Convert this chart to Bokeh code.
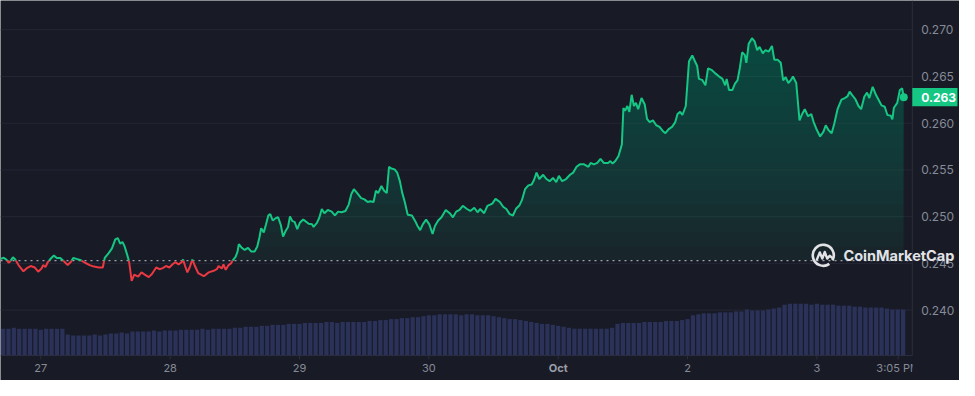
import numpy as np
from bokeh.plotting import figure
from bokeh.models import Range1d
from bokeh.core.properties import value
from bokeh.embed import file_html
from bokeh.resources import INLINE

# ---------------- data ----------------
# time in hours since 27 Sep 00:00, price in USD
HOURS = [
    -7.48, -6.88, -6.39, -5.97, -5.66, -5.17, -4.75, -4.14, -3.23, -2.61,
    -1.88, -1.10, -0.49, 0.13, 0.42, 0.86, 1.33, 1.95, 2.43, 2.97,
    3.60, 4.38, 4.98, 5.60, 6.02, 6.63, 7.43, 8.21, 9.07, 9.86,
    10.77, 11.50, 11.86, 12.59, 13.20, 13.82, 14.29, 14.73, 15.15, 15.51,
    15.93, 16.37, 16.61, 16.85, 17.34, 18.07, 18.67, 19.29, 20.02, 20.62,
    21.41, 22.03, 22.63, 23.23, 23.85, 24.46, 24.95, 25.55, 26.15, 26.41,
    26.77, 27.19, 27.61, 28.11, 28.60, 29.20, 30.24, 31.15, 32.07, 32.67,
    32.98, 33.58, 33.89, 34.31, 34.80, 35.28, 35.72, 36.14, 36.50, 36.74,
    37.23, 37.83, 38.45, 39.06, 39.66, 40.15, 40.57, 40.88, 41.37, 41.79,
    42.21, 42.58, 43.02, 43.62, 44.04, 44.53, 44.95, 45.44, 45.87, 46.23,
    46.67, 47.09, 47.58, 48.06, 48.68, 49.10, 49.70, 50.32, 50.61, 51.23,
    51.65, 52.14, 52.62, 53.24, 53.97, 54.57, 55.17, 55.79, 56.52, 57.13,
    57.62, 58.09, 58.71, 59.44, 60.05, 60.65, 61.14, 61.74, 62.18, 62.60,
    63.20, 63.70, 64.19, 64.61, 65.03, 65.65, 66.12, 66.62, 67.04, 67.53,
    68.08, 68.86, 69.48, 69.90, 70.39, 70.87, 71.49, 72.09, 72.69, 73.13,
    73.73, 74.34, 75.14, 75.87, 76.47, 77.07, 77.69, 78.30, 79.08, 79.70,
    80.43, 81.03, 81.53, 82.26, 82.86, 83.77, 84.37, 85.18, 85.78, 86.38,
    87.00, 87.60, 88.21, 88.83, 89.25, 89.85, 90.47, 91.07, 91.49, 91.98,
    92.48, 93.21, 93.81, 94.41, 95.03, 95.64, 96.13, 96.73, 97.46, 98.19,
    98.79, 99.41, 100.02, 100.80, 101.60, 102.02, 102.63, 103.25, 103.85, 104.45,
    105.25, 105.67, 106.09, 106.59, 107.19, 107.81, 108.10, 108.41, 108.83, 109.20,
    109.63, 110.05, 110.42, 110.84, 111.46, 112.06, 112.48, 112.97, 113.58, 114.20,
    114.80, 115.40, 115.89, 116.50, 117.12, 117.72, 118.14, 118.63, 119.05, 119.67,
    120.27, 120.88, 121.37, 121.79, 122.10, 122.70, 123.32, 123.80, 124.53, 125.15,
    125.88, 126.48, 126.97, 127.26, 127.70, 128.30, 128.80, 129.27, 129.71, 130.13,
    130.62, 130.91, 131.35, 131.95, 132.45, 132.92, 133.36, 133.96, 134.45, 135.06,
    135.66, 136.10, 136.70, 137.30, 137.74, 138.21, 138.71, 139.13, 139.56, 140.17,
    140.77, 141.26, 141.75, 142.36, 142.96, 143.40, 144.00, 144.60, 145.22, 145.64,
    146.14, 146.74, 147.23, 147.83, 148.56, 149.17, 149.66, 150.08, 150.51, 151.12,
    151.72, 152.21, 152.81, 153.31, 153.73, 154.35, 154.95, 155.37, 155.99, 156.59,
    157.08, 157.69, 158.00, 158.29, 158.91, 159.39, 159.82, 160.12,
]
PRICES = [
    0.24548, 0.24561, 0.24541, 0.24507, 0.24524, 0.24565, 0.24541, 0.24482, 0.24415, 0.24449,
    0.24472, 0.24456, 0.24411, 0.24445, 0.24482, 0.24462, 0.24517, 0.24558, 0.24585, 0.24558,
    0.24558, 0.24517, 0.24482, 0.24517, 0.24558, 0.24548, 0.24534, 0.24507, 0.24482, 0.24466,
    0.24456, 0.24456, 0.24558, 0.24610, 0.24661, 0.24757, 0.24770, 0.24712, 0.24729, 0.24688,
    0.24610, 0.24524, 0.24421, 0.24312, 0.24380, 0.24359, 0.24404, 0.24380, 0.24353, 0.24387,
    0.24456, 0.24438, 0.24449, 0.24472, 0.24456, 0.24490, 0.24513, 0.24490, 0.24513, 0.24541,
    0.24472, 0.24404, 0.24456, 0.24541, 0.24472, 0.24397, 0.24363, 0.24404, 0.24421, 0.24438,
    0.24472, 0.24445, 0.24490, 0.24431, 0.24479, 0.24500, 0.24541, 0.24569, 0.24626, 0.24705,
    0.24671, 0.24644, 0.24667, 0.24626, 0.24626, 0.24678, 0.24780, 0.24877, 0.24832, 0.24918,
    0.25013, 0.25027, 0.24959, 0.24986, 0.24993, 0.24911, 0.24787, 0.24849, 0.24890, 0.25003,
    0.24952, 0.24944, 0.24866, 0.24934, 0.24969, 0.24952, 0.24924, 0.24918, 0.24890, 0.24934,
    0.24986, 0.25082, 0.25037, 0.25072, 0.25054, 0.25013, 0.25054, 0.25047, 0.25061, 0.25129,
    0.25242, 0.25294, 0.25252, 0.25198, 0.25185, 0.25157, 0.25164, 0.25157, 0.25277, 0.25252,
    0.25328, 0.25277, 0.25252, 0.25534, 0.25516, 0.25506, 0.25472, 0.25380, 0.25260, 0.25157,
    0.25020, 0.25013, 0.24952, 0.24900, 0.24856, 0.24918, 0.24969, 0.24918, 0.24815, 0.24900,
    0.24959, 0.24993, 0.25072, 0.25037, 0.24993, 0.25054, 0.25072, 0.25116, 0.25082, 0.25061,
    0.25095, 0.25047, 0.25082, 0.25037, 0.25116, 0.25140, 0.25191, 0.25157, 0.25106, 0.25082,
    0.25027, 0.25013, 0.25088, 0.25123, 0.25174, 0.25294, 0.25335, 0.25345, 0.25390, 0.25472,
    0.25403, 0.25448, 0.25403, 0.25380, 0.25414, 0.25370, 0.25437, 0.25380, 0.25403, 0.25448,
    0.25472, 0.25534, 0.25560, 0.25560, 0.25534, 0.25575, 0.25560, 0.25575, 0.25619, 0.25575,
    0.25575, 0.25595, 0.25568, 0.25595, 0.25650, 0.25773, 0.26163, 0.26132, 0.26184, 0.26122,
    0.26304, 0.26184, 0.26218, 0.26150, 0.26269, 0.26201, 0.26047, 0.26012, 0.26030, 0.25978,
    0.25961, 0.25917, 0.25893, 0.25937, 0.25961, 0.26012, 0.26098, 0.26122, 0.26088, 0.26184,
    0.26663, 0.26725, 0.26663, 0.26612, 0.26474, 0.26464, 0.26406, 0.26587, 0.26567, 0.26533,
    0.26499, 0.26474, 0.26406, 0.26474, 0.26355, 0.26355, 0.26423, 0.26458, 0.26594, 0.26759,
    0.26731, 0.26646, 0.26851, 0.26910, 0.26875, 0.26782, 0.26817, 0.26748, 0.26782, 0.26766,
    0.26827, 0.26680, 0.26680, 0.26646, 0.26458, 0.26492, 0.26430, 0.26458, 0.26499, 0.26430,
    0.26030, 0.26098, 0.26150, 0.26074, 0.26098, 0.26012, 0.25927, 0.25858, 0.25910, 0.25978,
    0.25927, 0.25893, 0.25996, 0.26150, 0.26252, 0.26269, 0.26286, 0.26338, 0.26304, 0.26259,
    0.26184, 0.26150, 0.26286, 0.26327, 0.26269, 0.26389, 0.26304, 0.26259, 0.26191, 0.26176,
    0.26088, 0.26081, 0.26040, 0.26166, 0.26218, 0.26355, 0.26372, 0.26279,
]
# hourly volume bars (relative units), hour -7 .. 160
VOL_HOURS = list(range(-7, 161))
VOLUMES = [
    28, 28, 29, 28, 28, 28, 28, 27, 28, 28, 28, 28,
    22, 21, 21, 21, 21, 22, 21, 22,
    23, 23, 24, 23,
    25, 25, 25, 25, 26, 25, 26, 26,
    26, 27, 27, 27, 27, 28, 27, 28, 28, 28, 28, 29,
    29, 30, 30, 30, 31, 31,
    32, 32, 32, 33, 33, 33,
    34, 34, 34, 34, 35, 35, 34, 35, 35, 35, 35, 35,
    36, 36, 37, 37, 38, 38, 39, 39, 40, 40,
    41, 42, 42, 43, 43, 43, 43, 42, 43, 43, 42, 42, 42, 41,
    40, 39, 38, 38, 37, 36,
    35, 34, 33, 33, 32, 31,
    30, 29, 28, 28, 28, 28, 28, 28, 28, 29,
    33, 34, 34, 34, 34, 35, 35, 35,
    35, 36, 36, 36, 37, 38,
    42, 43, 44, 44, 44, 45, 45, 45, 46, 46,
    48, 47, 47, 47, 48, 49, 50,
    53, 54, 54, 54, 54, 53, 54, 53, 53, 53, 52, 52, 52,
    51, 51, 50, 50, 50, 50, 49, 48, 48, 48,
]
BASELINE = 0.2453
Y_TICKS = [0.240, 0.245, 0.250, 0.255, 0.260, 0.265, 0.270]
X_TICKS = [0, 24, 48, 72, 120, 144, 159.08]
X_LABELS = ["27", "28", "29", "30", "2", "3", "3:05 PM"]
MONTH_TICK = [96]
MONTH_LABEL = ["Oct"]

# ---------------- styling ----------------
BG = "#181a25"
GRID = "#242735"
AXIS = "#2c2f3d"
TICK = "#868b98"
GREEN = "#16c784"
RED = "#ea3943"
VOLC = "#2b3259"
WM = "#e2e3e7"
FONT = value("Inter")

X0, X1 = -7.48, 170.46
Y0, Y1 = 0.23247, 0.27313
HPX = (X1 - X0) / 975.0   # hours per layout pixel
PPX = (Y1 - Y0) / 396.0   # price per layout pixel
X_DIV = X0 + 927 * HPX
Y_AXIS = Y1 - 370 * PPX
YLAB_X = X0 + 936 * HPX
XLAB_Y = Y1 - 383 * PPX

p = figure(width=959, height=380, x_range=Range1d(X0, X1), y_range=Range1d(Y0, Y1),
           output_backend="svg", toolbar_location=None, min_border=0,
           x_axis_location=None, y_axis_location=None,
           background_fill_color=BG, border_fill_color=BG, outline_line_color=None)
for g in p.grid:
    g.visible = False
p.extra_y_ranges = {"vol": Range1d(-26, 370)}

# grid lines
p.segment(x0=[X0] * len(Y_TICKS), x1=[X_DIV] * len(Y_TICKS), y0=Y_TICKS, y1=Y_TICKS,
          line_color=GRID, line_width=1)

# volume
p.vbar(x=VOL_HOURS, top=VOLUMES, bottom=0, width=0.78, y_range_name="vol",
       fill_color=VOLC, line_color=None)

# split line at baseline crossings
t = np.array(HOURS)
pr = np.array(PRICES)
segs = []
fx, fy = [t[0]], [pr[0]]
cx, cy, cup = [t[0]], [pr[0]], pr[0] >= BASELINE
for i in range(1, len(t)):
    up = pr[i] >= BASELINE
    if up != cup:
        f = (BASELINE - pr[i - 1]) / (pr[i] - pr[i - 1])
        xc = t[i - 1] + f * (t[i] - t[i - 1])
        cx.append(xc); cy.append(BASELINE)
        segs.append((cx, cy, cup))
        fx.append(xc); fy.append(BASELINE)
        cx, cy, cup = [xc], [BASELINE], up
    cx.append(t[i]); cy.append(pr[i])
    fx.append(t[i]); fy.append(pr[i])
segs.append((cx, cy, cup))
fx = np.array(fx); fy = np.array(fy)

# gradient fill (stacked translucent layers)
p.varea(x=fx, y1=np.full(len(fx), BASELINE), y2=np.maximum(fy, BASELINE),
        fill_color=GREEN, fill_alpha=0.07)
for L in np.arange(BASELINE + 0.0015, 0.2705, 0.0015):
    p.varea(x=fx, y1=np.full(len(fx), L), y2=np.maximum(fy, L),
            fill_color=GREEN, fill_alpha=0.018)

# baseline dotted
p.line([X0, X_DIV], [BASELINE, BASELINE], line_color="#9ea2ad", line_width=1.3,
       line_dash="2 4")

# price line
p.multi_line(xs=[s[0] for s in segs], ys=[s[1] for s in segs],
             line_color=[GREEN if s[2] else RED for s in segs], line_width=2)
p.scatter([HOURS[-1]], [PRICES[-1]], size=8, fill_color=GREEN, line_color=None)

# axis frame lines
p.segment(x0=[X0], y0=[Y_AXIS], x1=[X_DIV], y1=[Y_AXIS], line_color=AXIS, line_width=1)
p.segment(x0=[X_DIV], y0=[Y1], x1=[X_DIV], y1=[Y_AXIS], line_color=AXIS, line_width=1)
all_ticks = X_TICKS + MONTH_TICK
p.segment(x0=all_ticks, y0=[Y_AXIS] * len(all_ticks), x1=all_ticks,
          y1=[Y_AXIS - 4 * PPX] * len(all_ticks), line_color=AXIS, line_width=1)

# x labels
p.text(x=X_TICKS, y=[XLAB_Y] * len(X_TICKS), text=X_LABELS, text_font=FONT,
       text_font_size="11px", text_color=TICK, text_align="center", text_baseline="middle")
p.text(x=MONTH_TICK, y=[XLAB_Y], text=MONTH_LABEL, text_font=FONT, text_font_style="bold",
       text_font_size="11px", text_color="#9a9eaa", text_align="center", text_baseline="middle")
# clip region right of the plot below the axis
p.quad(left=[X_DIV + 0.05], right=[X1], bottom=[Y0], top=[Y_AXIS - 0.00005],
       fill_color=BG, line_color=None)

# y labels
p.text(x=[YLAB_X] * len(Y_TICKS), y=Y_TICKS, text=[f"{v:.3f}" for v in Y_TICKS],
       text_font=FONT, text_font_size="12px", text_color=TICK,
       text_align="left", text_baseline="middle")

# last-price badge
last = PRICES[-1]
p.quad(left=[X_DIV], right=[X0 + 973 * HPX], bottom=[last - 9.5 * PPX], top=[last + 9.5 * PPX],
       fill_color=GREEN, line_color=None)
p.text(x=[YLAB_X], y=[last], text=[f"{last:.3f}"], text_font=FONT, text_font_style="bold",
       text_font_size="12px", text_color="white", text_align="left", text_baseline="middle")

# watermark
wx = X0 + 836.5 * HPX
wy = Y1 - 265.5 * PPX
p.arc(x=[wx], y=[wy], radius=10.5, radius_units="screen", start_angle=-0.5,
      end_angle=5.33, line_color=WM, line_width=2.6)
moff = [(-6.5, 4.5), (-3.5, -3), (-1, 3.5), (1.5, -3.5), (4, 3.5), (6.5, 0.5), (9.5, 3)]
p.line([wx + dx * HPX for dx, dy in moff], [wy - dy * PPX for dx, dy in moff],
       line_color=WM, line_width=2.4, line_join="round", line_cap="round")
p.text(x=[X0 + 857 * HPX], y=[wy], text=["CoinMarketCap"], text_font=FONT,
       text_font_style="bold", text_font_size="14.5px", text_color=WM,
       text_align="left", text_baseline="middle")

open("out.html", "w").write(file_html(p, INLINE))
